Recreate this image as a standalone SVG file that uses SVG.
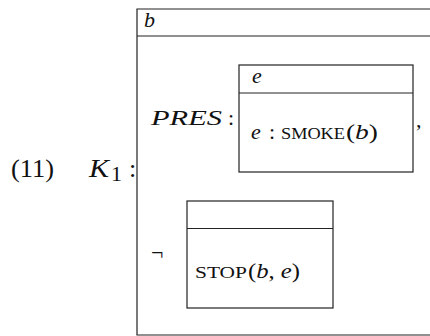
<svg xmlns="http://www.w3.org/2000/svg" width="430" height="336" viewBox="0 0 430 336">
<style>
  .box { fill: none; stroke: #222; stroke-width: 1.2; }
  .t { font-family: "Liberation Serif", "DejaVu Serif", serif; font-size: 22px; fill: #111; }
  .big { font-size: 26px; }
  .i { font-style: italic; }
  .sc { font-size: 16.5px; }
</style>
<rect width="430" height="336" fill="#fff"/>
<g id="label">
  <text class="t big" x="11" y="177" textLength="43" lengthAdjust="spacingAndGlyphs">(11)</text>
  <text class="t big i" x="89" y="177" textLength="20" lengthAdjust="spacingAndGlyphs">K</text>
  <text class="t" x="111" y="181" font-size="17">1</text>
  <text class="t big" x="129" y="177">:</text>
</g>
<g id="outer-box">
  <path class="box" d="M440,9 H137 V335 H440 M137,36 H440"/>
  <text class="t i" x="144" y="27">b</text>
</g>
<g id="pres">
  <text class="t i" x="151" y="125" font-size="23" textLength="71" lengthAdjust="spacingAndGlyphs">PRES</text>
  <text class="t" x="228" y="125">:</text>
  <text class="t" x="416" y="127">,</text>
</g>
<g id="smoke-box">
  <rect class="box" x="239" y="65" width="174" height="107"/>
  <line class="box" x1="239" y1="93" x2="413" y2="93"/>
  <text class="t i" x="252" y="83">e</text>
  <text class="t i" x="251" y="139">e</text>
  <text class="t" x="269" y="139">:</text>
  <text class="t sc" x="281" y="139" textLength="64" lengthAdjust="spacingAndGlyphs">SMOKE</text>
  <text class="t" x="346" y="139" textLength="32" lengthAdjust="spacingAndGlyphs">(<tspan class="i">b</tspan>)</text>
</g>
<g id="stop-box">
  <text class="t" x="151" y="260" font-size="25">¬</text>
  <rect class="box" x="187" y="201" width="146" height="107"/>
  <line class="box" x1="187" y1="228.5" x2="333" y2="228.5"/>
  <text class="t sc" x="195" y="278" textLength="52" lengthAdjust="spacingAndGlyphs">STOP</text>
  <text class="t" x="248" y="278" textLength="52" lengthAdjust="spacingAndGlyphs">(<tspan class="i">b</tspan>, <tspan class="i">e</tspan>)</text>
</g>
</svg>
